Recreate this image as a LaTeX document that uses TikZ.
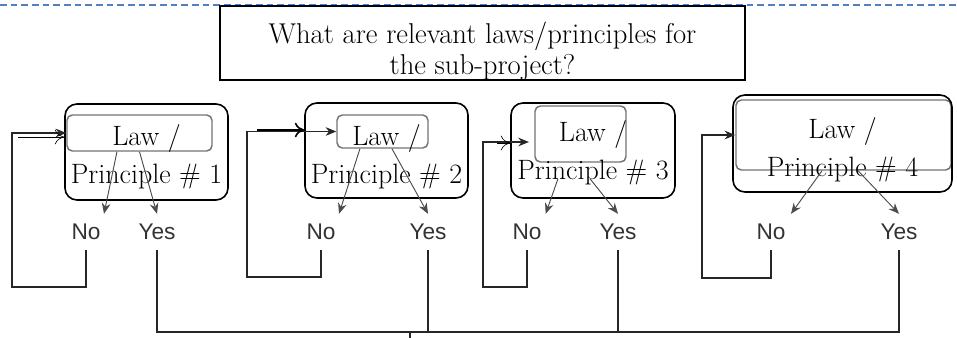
\documentclass[tikz,border=0pt]{standalone}
\usepackage{fontspec}
\setsansfont{Liberation Sans}
\usetikzlibrary{arrows.meta,positioning}

\definecolor{dashblue}{RGB}{79,129,189}

\tikzset{
  topline/.style={dashblue,line width=1pt,dash pattern=on 5pt off 3pt},
  askbox/.style={draw,line width=1pt,minimum width=393.75pt,minimum height=54pt,inner sep=0pt,
    align=center,text height=51.5pt,text depth=4pt,font=\fontsize{21.5}{23}\selectfont},
  lawbox/.style={draw,rounded corners=9pt,line width=1.2pt,inner sep=0pt,align=center,
    text height=51.5pt,text depth=3.5pt,font=\fontsize{21}{28.5}\selectfont},
  innerbox/.style={draw=black!55,rounded corners=4pt,line width=1.1pt,inner sep=0pt},
  answer/.style={font=\sffamily\fontsize{17}{17}\selectfont,text=black!80,inner xsep=1pt,inner ysep=7.5pt},
  flow/.style={-{Stealth[length=8pt,width=6.5pt]},line width=0.8pt,black!85},
  branch/.style={-{Stealth[length=8pt,width=6.5pt]},line width=0.7pt,black!70},
  ghost/.style={-{To[length=7pt,width=11pt]},line width=0.5pt},
  wire/.style={line width=0.8pt,black!85},
}

\begin{document}
\begin{tikzpicture}[x=0.75pt,y=-0.75pt]
\useasboundingbox (0,0) rectangle (957,338);
\draw[topline] (0,5) -- (957,5);

\node[askbox] (ask) at (482.5,43) {What are relevant laws/principles for\\the sub-project?};

% inner boxes (old flowchart)
\node[innerbox,minimum width=108.75pt,minimum height=27pt] (in1) at (139.5,133) {};
\node[innerbox,minimum width=68.25pt,minimum height=24.75pt] (in2) at (382.5,131.5) {};
\node[innerbox,minimum width=68.25pt,minimum height=42pt] (in3) at (580.5,134) {};
\node[innerbox,minimum width=161.25pt,minimum height=52.5pt] (in4) at (843.5,135) {};

% law boxes
\node[lawbox,minimum width=122.25pt,minimum height=72pt] (lp1) at (146.5,152) {Law /\\Principle \# 1};
\node[lawbox,minimum width=122.25pt,minimum height=71.25pt,text height=53pt] (lp2) at (386.5,150.5) {Law /\\Principle \# 2};
\node[lawbox,minimum width=123pt,minimum height=71.25pt,text height=47pt] (lp3) at (593,150.5) {Law /\\Principle \# 3};
\node[lawbox,minimum width=164.25pt,minimum height=72.75pt,text height=53pt] (lp4) at (842.5,143.5) {Law /\\Principle \# 4};

% answers
\node[answer] (no1) at (86,232) {No};
\node[answer] (yes1) at (157,232) {Yes};
\node[answer] (no2) at (321,232) {No};
\node[answer] (yes2) at (428,232) {Yes};
\node[answer] (no3) at (527,232) {No};
\node[answer] (yes3) at (618,232) {Yes};
\node[answer] (no4) at (771,232) {No};
\node[answer] (yes4) at (899,232) {Yes};

\draw[branch] ([xshift=-16.9pt]in1.south) -- ([xshift=13.5pt]no1.north);
\draw[branch] (in1.south) -- (yes1.north);
\draw[branch] ([xshift=-16.9pt]in2.south) -- ([xshift=13.5pt]no2.north);
\draw[branch] ([xshift=7.1pt]in2.south) -- (yes2.north);
\draw[branch] ([xshift=-16.9pt,yshift=-12pt]in3.south) -- ([xshift=14pt]no3.north);
\draw[branch] ([xshift=7.1pt,yshift=-12pt]in3.south) -- (yes3.north);
\draw[branch] ([xshift=-16.1pt]in4.south) -- ([xshift=15pt]no4.north);
\draw[branch] ([xshift=10.9pt]in4.south) -- (yes4.north);

% loops back
\coordinate (c1) at (12,287);
\coordinate (c2) at (247,277);
\coordinate (c3) at (483,287);
\coordinate (c4) at (702,278);
\draw[flow] (no1.south) |- (c1) |- (in1.west);
\draw[flow] (no2.south) |- (c2) |- (in2.west);
\draw[flow] (no3.south) |- (c3) |- ([xshift=-4pt,yshift=-6pt]in3.west);
\draw[flow] (no4.south) |- (c4) |- (in4.west);

\coordinate (g1) at (18,137);
\coordinate (g2) at (257,130);
\coordinate (g3) at (497,143);
\draw[ghost] (g1) -- (lp1.west |- g1);
\draw[ghost,line width=1.2pt] (g2) -- (lp2.west |- g2);
\draw[ghost] (g3) -- (lp3.west |- g3);

% yes lines
\coordinate (bus) at (0,332);
\coordinate (out) at (410,338);
\draw[wire] (yes1.south) |- (yes4.south |- bus) -- (yes4.south);
\draw[wire] (yes2.south) -- (yes2.south |- bus);
\draw[wire] (yes3.south) -- (yes3.south |- bus);
\draw[wire] (out |- bus) -- (out);
\end{tikzpicture}
\end{document}
